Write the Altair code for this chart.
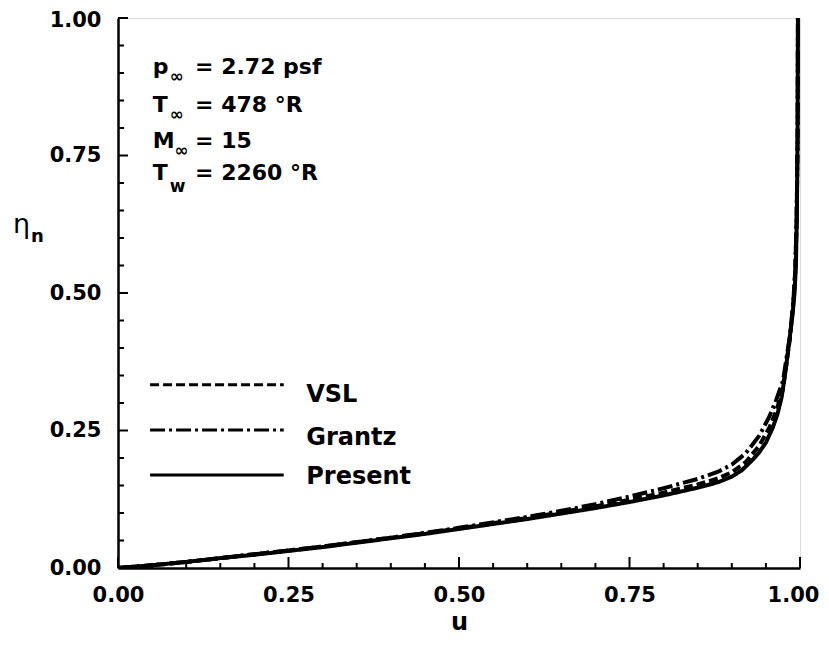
import altair as alt
import pandas as pd

# ---------------- data ----------------
present_u = [0, 0.05, 0.1, 0.15, 0.2, 0.25, 0.3, 0.35, 0.4, 0.45, 0.5, 0.55, 0.6, 0.65, 0.7,
             0.75, 0.8, 0.85, 0.88, 0.9, 0.915, 0.93, 0.94, 0.95, 0.96, 0.967, 0.973, 0.979,
             0.985, 0.989, 0.992, 0.994, 0.9955, 0.9965, 0.997]
present_eta = [0, 0.005, 0.011, 0.018, 0.024, 0.031, 0.038, 0.046, 0.054, 0.062, 0.071, 0.080,
               0.089, 0.099, 0.109, 0.12, 0.132, 0.146, 0.156, 0.166, 0.178, 0.196, 0.21, 0.228,
               0.255, 0.28, 0.31, 0.36, 0.42, 0.46, 0.5, 0.55, 0.65, 0.8, 1.0]

grantz_u = [0, 0.05, 0.1, 0.2, 0.3, 0.4, 0.5, 0.6, 0.65, 0.7, 0.75, 0.8, 0.85, 0.88, 0.9, 0.92,
            0.94, 0.955, 0.965, 0.975, 0.985, 0.99, 0.993, 0.995, 0.9965, 0.997]
grantz_eta = [0, 0.005, 0.011, 0.025, 0.039, 0.055, 0.073, 0.093, 0.104, 0.116, 0.13, 0.145,
              0.162, 0.175, 0.188, 0.208, 0.24, 0.275, 0.305, 0.34, 0.42, 0.48, 0.54, 0.63, 0.78, 1.0]

vsl_u = [0, 0.05, 0.1, 0.2, 0.3, 0.4, 0.5, 0.6, 0.7, 0.75, 0.8, 0.85, 0.88, 0.9, 0.92, 0.94,
         0.955, 0.965, 0.975, 0.985, 0.99, 0.993, 0.995, 0.9965, 0.997]
vsl_eta = [0, 0.005, 0.011, 0.025, 0.039, 0.055, 0.072, 0.091, 0.112, 0.124, 0.137, 0.152,
           0.163, 0.174, 0.192, 0.222, 0.255, 0.285, 0.325, 0.415, 0.48, 0.54, 0.63, 0.78, 1.0]

series_names = ["VSL", "Grantz", "Present"]

x_major_ticks = [0.0, 0.25, 0.5, 0.75, 1.0]
x_minor_ticks = [0.05, 0.1, 0.15, 0.2, 0.3, 0.35, 0.4, 0.45, 0.55, 0.6, 0.65, 0.7,
                 0.8, 0.85, 0.9, 0.95]
y_major_ticks = [0.0, 0.25, 0.5, 0.75, 1.0]
y_minor_ticks = [0.05, 0.1, 0.15, 0.2, 0.3, 0.35, 0.4, 0.45, 0.55, 0.6, 0.65, 0.7,
                 0.8, 0.85, 0.9, 0.95]

annot_main = ["p", "T", "M", "T"]
annot_sub = ["\u221e", "\u221e", "\u221e", "w"]
annot_rest = ["=  2.72  psf", "=  478  \u00b0R", "=  15", "=  2260  \u00b0R"]

# ---------------- layout (positions, not data) ----------------
W, H = 682, 550
FONT = "DejaVu Sans"
annot_u_main = 0.051
annot_eta_base = [0.898, 0.829, 0.764, 0.705]
annot_u_sub = [0.076, 0.076, 0.083, 0.076]
annot_eta_sub = [0.884, 0.815, 0.750, 0.683]
annot_u_rest = 0.113
legend_u0, legend_u1 = 0.047, 0.243
legend_eta_line = [0.333, 0.251, 0.169]
legend_u_text = 0.276
legend_eta_text = [0.302, 0.224, 0.153]

dash_range = [[9, 4], [15, 4, 3, 4], [1, 0]]

# ---------------- frames ----------------
rows = []
for name, us, es in [("VSL", vsl_u, vsl_eta), ("Grantz", grantz_u, grantz_eta),
                     ("Present", present_u, present_eta)]:
    for i, (a, b) in enumerate(zip(us, es)):
        rows.append({"series": name, "u": a, "eta": b, "i": i})
curves = pd.DataFrame(rows)

xs = alt.Scale(domain=[0, 1], nice=False, zero=False)
ys = alt.Scale(domain=[0, 1], nice=False, zero=False)
dash = alt.StrokeDash("series:N", scale=alt.Scale(domain=series_names, range=dash_range), legend=None)

ax_x = alt.Axis(values=x_major_ticks, format=".2f", ticks=False, grid=False,
                domainColor="black", domainWidth=2.5, labelFont=FONT, labelFlush=False,
                labelOverlap=False, labelBound=False,
                labelOffset={"condition": {"test": "datum.value >= 1", "value": -7}, "value": 0},
                labelFontSize=21, labelFontWeight="bold", labelColor="black",
                labelPadding=16, title="u", titleFont=FONT, titleFontSize=24,
                titleFontWeight="bold", titleColor="black", titlePadding=5)
ax_y = alt.Axis(values=y_major_ticks, format=".2f", ticks=False, grid=False,
                domainColor="black", domainWidth=2.5, labelFont=FONT, labelFlush=False,
                labelOverlap=False, labelBound=False,
                labelOffset={"condition": {"test": "datum.value >= 1", "value": 2}, "value": 0},
                labelFontSize=21, labelFontWeight="bold", labelColor="black",
                labelPadding=17, title=None)

X = lambda: alt.X("u:Q", scale=xs, axis=ax_x)
Y = lambda: alt.Y("eta:Q", scale=ys, axis=ax_y)

lines = alt.Chart(curves).mark_line(color="black", strokeWidth=4, clip=True).encode(
    x=X(), y=Y(), strokeDash=dash, detail="series:N", order="i:Q")

def tick_layer(values, chan, length):
    df = pd.DataFrame({chan: values})
    if chan == "u":
        enc = dict(x=X(), y=alt.value(H), y2=alt.value(H - length))
    else:
        enc = dict(y=Y(), x=alt.value(0), x2=alt.value(length))
    return alt.Chart(df).mark_rule(color="black", strokeWidth=2).encode(**enc)

ticks = (tick_layer(x_major_ticks, "u", 11) + tick_layer(x_minor_ticks, "u", 5) +
         tick_layer(y_major_ticks, "eta", 10) + tick_layer(y_minor_ticks, "eta", 6))

# legend
leg = pd.DataFrame({"series": series_names, "u": [legend_u0] * 3, "u2": [legend_u1] * 3,
                    "eta": legend_eta_line})
leg_lines = alt.Chart(leg).mark_rule(color="black", strokeWidth=3).encode(
    x=X(), x2="u2:Q", y=Y(), strokeDash=dash)
leg_txt = pd.DataFrame({"t": series_names, "u": [legend_u_text] * 3, "eta": legend_eta_text})
leg_text = alt.Chart(leg_txt).mark_text(align="left", baseline="alphabetic", font=FONT,
                                        fontSize=24, fontWeight="bold", color="black").encode(
    x=X(), y=Y(), text="t:N")

# annotation
a_main = pd.DataFrame({"t": annot_main, "u": [annot_u_main] * 4, "eta": annot_eta_base})
a_sub = pd.DataFrame({"t": annot_sub, "u": annot_u_sub, "eta": annot_eta_sub})
a_rest = pd.DataFrame({"t": annot_rest, "u": [annot_u_rest] * 4, "eta": annot_eta_base})

def txt(df, size):
    return alt.Chart(df).mark_text(align="left", baseline="alphabetic", font=FONT,
                                   fontSize=size, fontWeight="bold", color="black").encode(
        x=X(), y=Y(), text="t:N")

annots = txt(a_main, 22) + txt(a_sub, 17) + txt(a_rest, 22)

# y title eta_n
eta_t = alt.Chart(pd.DataFrame({"t": ["\u03b7"]})).mark_text(
    align="left", baseline="alphabetic", font=FONT, fontSize=27, color="black").encode(
    x=alt.value(-105), y=alt.value(215), text="t:N")
n_t = alt.Chart(pd.DataFrame({"t": ["n"]})).mark_text(
    align="left", baseline="alphabetic", font=FONT, fontSize=18, fontWeight="bold",
    color="black").encode(x=alt.value(-87), y=alt.value(224), text="t:N")

chart = alt.layer(lines, ticks, leg_lines, leg_text, annots, eta_t, n_t).properties(
    width=W, height=H,
    autosize=alt.AutoSizeParams(type="none"),
    padding={"left": 110, "top": 10, "right": 20, "bottom": 68},
).configure_view(stroke=None).configure(background="white")

chart.save("out.html", embed_options={"renderer": "svg", "actions": False})
